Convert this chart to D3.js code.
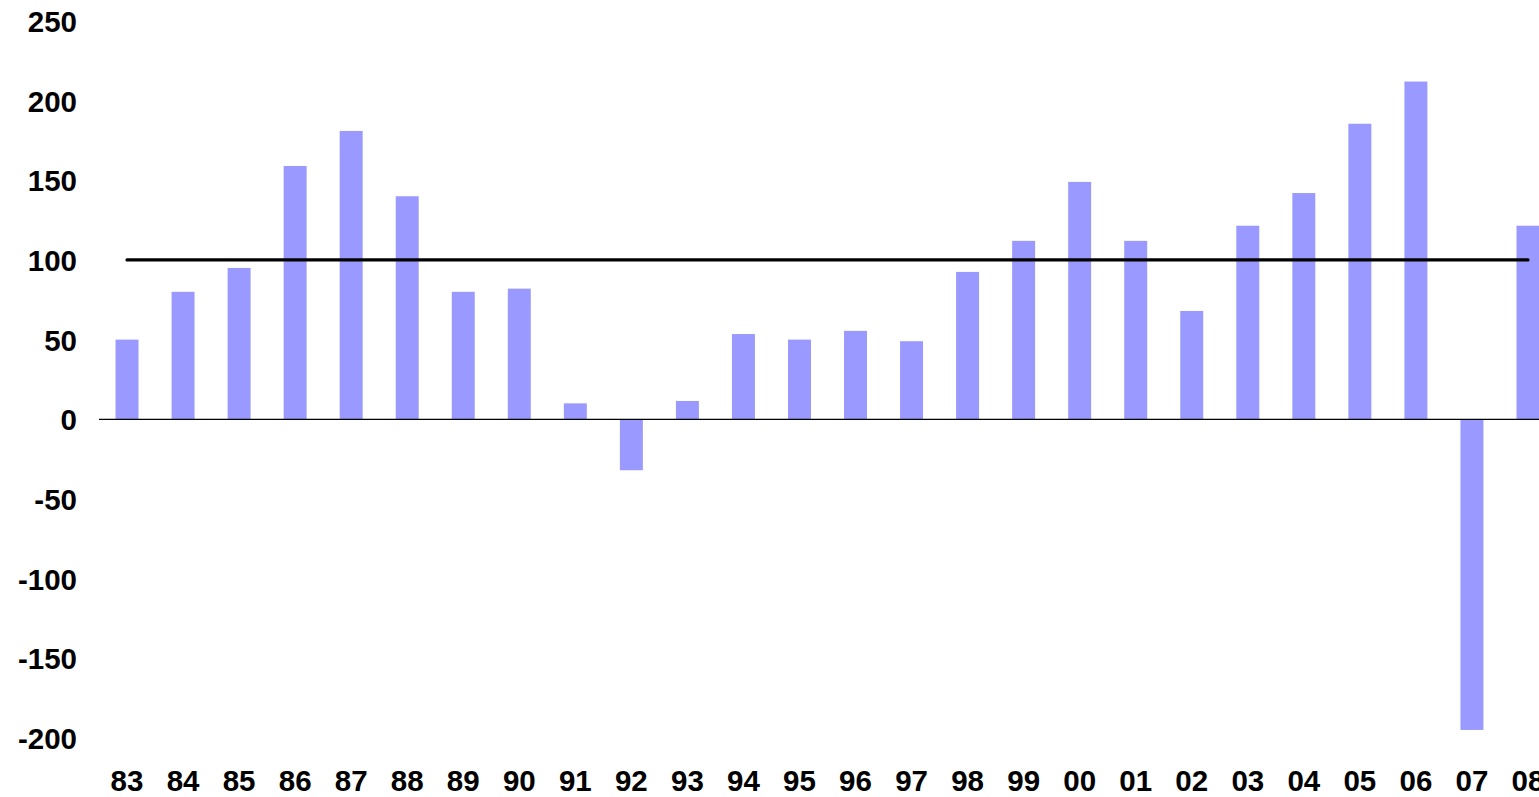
<!DOCTYPE html>
<html>
<head>
<meta charset="utf-8">
<script src="https://cdn.jsdelivr.net/npm/d3@7"></script>
<style>
  html, body { margin: 0; padding: 0; background: #fff; overflow: hidden; }
  text { font-family: "Liberation Sans", Arial, sans-serif; font-weight: bold; fill: #000; }
</style>
</head>
<body>
<svg id="chart" width="1539" height="797"></svg>
<script>
const categories = ["83","84","85","86","87","88","89","90","91","92","93","94","95","96","97","98","99","00","01","02","03","04","05","06","07","08"];
const values = [50, 80, 95, 159, 181, 140, 80, 82, 10, -32, 11.5, 53.5, 50, 55.5, 49, 92.5, 112, 149, 112, 68, 121.5, 142, 185.5, 212, -195, 121.5];
const referenceLevel = [100];
const yTicks = [250, 200, 150, 100, 50, 0, -50, -100, -150, -200];

const svg = d3.select("#chart");

const x = d3.scaleBand()
  .domain(categories)
  .range([99, 1556])
  .paddingInner(0.59)
  .paddingOuter(0.295);

const y = d3.scaleLinear()
  .domain([-200, 250])
  .range([737.9, 21]);

// bars
svg.append("g")
  .selectAll("rect")
  .data(values)
  .join("rect")
  .attr("x", (d, i) => x(categories[i]))
  .attr("width", x.bandwidth())
  .attr("y", d => y(Math.max(0, d)))
  .attr("height", d => Math.abs(y(d) - y(0)))
  .attr("fill", "#9999FF");

// zero line
svg.append("line")
  .attr("x1", x.range()[0])
  .attr("x2", x.range()[1])
  .attr("y1", y(0))
  .attr("y2", y(0))
  .attr("stroke", "#000")
  .attr("stroke-width", 1.2);

// reference line at 100
svg.append("g")
  .selectAll("line")
  .data(referenceLevel)
  .join("line")
  .attr("x1", x(categories[0]) + x.bandwidth() / 2)
  .attr("x2", x(categories[categories.length - 1]) + x.bandwidth() / 2)
  .attr("y1", d => y(d))
  .attr("y2", d => y(d))
  .attr("stroke", "#000")
  .attr("stroke-width", 3.2)
  .attr("stroke-linecap", "round");

// y axis (labels only)
const yAxis = d3.axisLeft(y).tickValues(yTicks).tickFormat(d => String(d)).tickSize(0).tickPadding(0);
const gy = svg.append("g").attr("transform", "translate(77,0)").call(yAxis);
gy.select(".domain").remove();
gy.selectAll("text")
  .attr("font-size", 29.5)
  .attr("font-family", "Liberation Sans, Arial, sans-serif")
  .attr("font-weight", "bold")
  .attr("fill", "#000")
  .attr("dy", "0.36em");

// x axis (labels only)
const xAxis = d3.axisBottom(x).tickSize(0).tickPadding(0);
const gx = svg.append("g").attr("transform", "translate(0,769.5)").call(xAxis);
gx.select(".domain").remove();
gx.selectAll("text")
  .attr("font-size", 29.5)
  .attr("font-family", "Liberation Sans, Arial, sans-serif")
  .attr("font-weight", "bold")
  .attr("fill", "#000")
  .attr("y", 0)
  .attr("dy", "0.73em");
</script>
</body>
</html>
